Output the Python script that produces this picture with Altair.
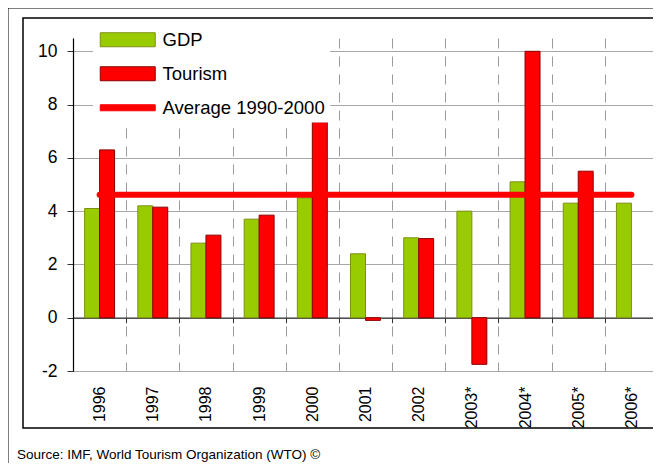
import altair as alt
import pandas as pd

# ---- data ----
years = ["1996", "1997", "1998", "1999", "2000", "2001", "2002", "2003*", "2004*", "2005*", "2006*"]
gdp = [4.1, 4.2, 2.8, 3.7, 4.5, 2.4, 3.0, 4.0, 5.1, 4.3, 4.3]
tourism = [6.3, 4.15, 3.1, 3.85, 7.35, -0.1, 2.97, -1.75, 10.0, 5.5, None]
average_1990_2000 = 4.62
series = ["GDP", "Tourism", "Average 1990-2000"]
y_ticks = [-2, 0, 2, 4, 6, 8, 10]
source_note = "Source: IMF, World Tourism Organization (WTO) \u00a9"

rows = []
for yr, g, t in zip(years, gdp, tourism):
    rows.append({"year": yr, "series": "GDP", "value": g})
    if t is not None:
        rows.append({"year": yr, "series": "Tourism", "value": t})
bars_df = pd.DataFrame(rows)
avg_df = pd.DataFrame({"year": years,
                       "value": [average_1990_2000] * len(years)})
legend_df = pd.DataFrame({"series": series})
one = pd.DataFrame({"k": [0]})

FONT = "Liberation Sans, Arial, sans-serif"
GREEN, RED = "#99cc00", "#ff0000"
GREEN_EDGE, RED_EDGE = "#7f8f10", "#8a0000"
# legend swatches: symbol unit = 7px, swatch 55px wide, drawn from the entry's left edge
RECT_PATH = "M-1,-1H6.857V1H-1Z"
LINE_PATH = "M-1,-0.43H6.857V0.43H-1Z"
W, H = 585, 333
Y_MIN, Y_MAX = -2, 10.5

x_scale = alt.Scale(domain=years, paddingInner=0, paddingOuter=0)
y_scale = alt.Scale(domain=[Y_MIN, Y_MAX], nice=False, zero=False)

legend = alt.Legend(
    title=None, orient="none", legendX=20, legendY=-12.5, padding=5,
    fillColor="white", symbolSize=196, symbolStrokeWidth=1, symbolOpacity=1,
    labelFont=FONT, labelFontSize=18.5, labelColor="black", labelOffset=46,
    labelLimit=400, rowPadding=15,
)

frames = alt.Chart(one).mark_rect(fillOpacity=0, stroke="black", strokeWidth=2).encode(
    x=alt.value(-65.5), x2=alt.value(800), y=alt.value(-30.5), y2=alt.value(800))
inner = alt.Chart(one).mark_rect(fillOpacity=0, stroke="black", strokeWidth=1.5).encode(
    x=alt.value(-50), x2=alt.value(587), y=alt.value(-20), y2=alt.value(390))

bars = alt.Chart(bars_df).mark_bar(strokeWidth=1).encode(
    x=alt.X("year:N", scale=x_scale, sort=years,
            axis=alt.Axis(title=None, orient="bottom", grid=True, gridDash=[10, 8],
                          gridColor="#9a9a9a", gridWidth=1, tickBand="extent",
                          ticks=False, domain=False, labelAngle=-90, labelFont=FONT,
                          labelFontSize=16, labelColor="black", labelPadding=15)),
    xOffset=alt.XOffset("series:N", sort=["GDP", "Tourism"],
                        scale=alt.Scale(domain=["GDP", "Tourism"], paddingInner=0, paddingOuter=0.776)),
    y=alt.Y("value:Q", scale=y_scale,
            axis=alt.Axis(title=None, values=y_ticks, grid=True, gridColor="#a8a8a8",
                          domainColor="black", domainWidth=1.2, tickColor="#333333",
                          tickSize=6, labelPadding=10, labelFont=FONT, labelFontSize=17.5,
                          labelColor="black", labelExpr="'' + datum.value")),
    color=alt.Color("series:N", scale=alt.Scale(domain=["GDP", "Tourism"], range=[GREEN, RED]),
                    legend=None),
    stroke=alt.condition(alt.datum.series == "GDP", alt.value(GREEN_EDGE), alt.value(RED_EDGE)),
)

line = alt.Chart(avg_df).mark_line(strokeWidth=6, strokeCap="round", color=RED).encode(
    x=alt.X("year:N", scale=x_scale, sort=years,
            axis=alt.Axis(title=None, orient="bottom", offset=-(H * (0 - Y_MIN) / (Y_MAX - Y_MIN)),
                          labels=False, grid=False, ticks=True, tickBand="extent", tickSize=5,
                          tickColor="#333333", domain=True, domainColor="#333333", domainWidth=1.2)),
    y=alt.Y("value:Q", scale=y_scale),
)

legend_layer = alt.Chart(legend_df).mark_point(filled=True, opacity=0).encode(
    x=alt.value(0), y=alt.value(0),
    fill=alt.Fill("series:N", scale=alt.Scale(domain=series, range=[GREEN, RED, RED]), legend=legend),
    shape=alt.Shape("series:N", scale=alt.Scale(domain=series, range=[RECT_PATH, RECT_PATH, LINE_PATH]),
                    legend=legend),
    stroke=alt.Stroke("series:N", scale=alt.Scale(domain=series, range=[GREEN_EDGE, RED_EDGE, RED]),
                      legend=legend),
)

note = alt.Chart(one).mark_text(align="left", baseline="alphabetic", font=FONT, fontSize=13.5,
                                color="black").encode(
    x=alt.value(-56), y=alt.value(421), text=alt.value(source_note))

chart = alt.layer(frames, inner, bars, line, legend_layer, note).resolve_axis(x="independent").properties(
    width=W, height=H, autosize="none",
    padding={"left": 65, "top": 30, "right": -5, "bottom": 92},
    background="white",
).configure_view(stroke="transparent")

chart.save("out.html", embed_options={"renderer": "svg", "actions": False})
